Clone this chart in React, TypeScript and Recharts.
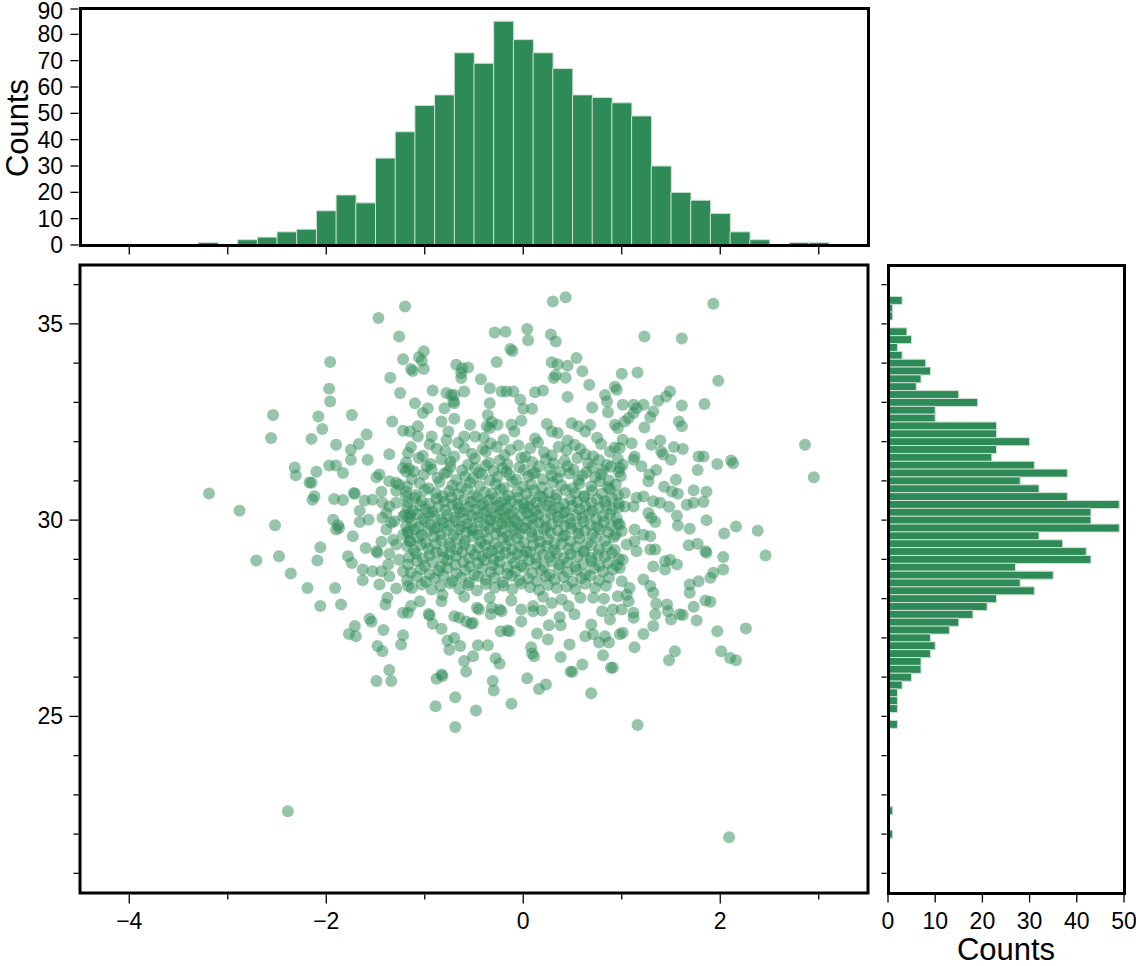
import React from 'react';
import { BarChart, Bar, ScatterChart, Scatter, XAxis, YAxis, ReferenceArea } from 'recharts';

const FONT = '"Liberation Sans", Arial, Helvetica, sans-serif';
const GREEN = '#2e8b57';
const BAR_EDGE = '#cfe2d6';
const MINUS = '\u2212';

// top histogram: bin centres (width 0.2) and counts
const xBinCenters = [
  -4.4, -4.2, -4.0, -3.8, -3.6, -3.4, -3.2, -3.0, -2.8, -2.6,
  -2.4, -2.2, -2.0, -1.8, -1.6, -1.4, -1.2, -1.0, -0.8, -0.6,
  -0.4, -0.2, 0.0, 0.2, 0.4, 0.6, 0.8, 1.0, 1.2, 1.4,
  1.6, 1.8, 2.0, 2.2, 2.4, 2.6, 2.8, 3.0, 3.2, 3.4,
];
const xCounts = [
  0, 0, 0, 0, 0, 0, 1, 0, 2, 3,
  5, 6, 13, 19, 16, 33, 43, 53, 57, 73,
  69, 85, 78, 73, 67, 57, 56, 54, 49, 30,
  20, 17, 12, 5, 2, 0, 1, 1, 0, 0,
];

// right histogram: bin centres from top to bottom and counts
const yBinCenters = [
  36.4, 36.2, 36.0, 35.8, 35.6, 35.4, 35.2, 35.0, 34.8, 34.6,
  34.4, 34.2, 34.0, 33.8, 33.6, 33.4, 33.2, 33.0, 32.8, 32.6,
  32.4, 32.2, 32.0, 31.8, 31.6, 31.4, 31.2, 31.0, 30.8, 30.6,
  30.4, 30.2, 30.0, 29.8, 29.6, 29.4, 29.2, 29.0, 28.8, 28.6,
  28.4, 28.2, 28.0, 27.8, 27.6, 27.4, 27.2, 27.0, 26.8, 26.6,
  26.4, 26.2, 26.0, 25.8, 25.6, 25.4, 25.2, 25.0, 24.8, 24.6,
  24.4, 24.2, 24.0, 23.8, 23.6, 23.4, 23.2, 23.0, 22.8, 22.6,
  22.4, 22.2, 22.0, 21.8, 21.6, 21.4, 21.2, 21.0, 20.8, 20.6,
];
const yCounts = [
  0, 0, 0, 0, 3, 1, 1, 0, 4, 5,
  2, 3, 8, 9, 7, 6, 15, 19, 10, 10,
  23, 23, 30, 23, 22, 31, 38, 28, 32, 38,
  49, 43, 43, 49, 32, 37, 42, 43, 27, 35,
  28, 31, 23, 21, 18, 15, 13, 9, 10, 9,
  7, 7, 5, 3, 2, 2, 2, 0, 2, 0,
  0, 0, 0, 0, 0, 0, 0, 0, 0, 1,
  0, 0, 1, 0, 0, 0, 0, 0, 0, 0,
];

// tick values
const scatterXTicks = [-4, -3, -2, -1, 0, 1, 2, 3];
const scatterYTicks = [21, 22, 23, 24, 25, 26, 27, 28, 29, 30, 31, 32, 33, 34, 35, 36];
const topCountTicks = [0, 10, 20, 30, 40, 50, 60, 70, 80, 90];
const rightCountTicks = [0, 10, 20, 30, 40, 50];

// scatter points, read region by region
const upperLeft = [
  [-1.2, 35.44], [-1.47, 35.15], [-1.26, 34.68], [-1.22, 34.1], [-1.96, 34.03], [-1.35, 33.63],
  [-1.97, 33.35], [-1.96, 33.02], [-1.25, 33.24], [-2.54, 32.68], [-2.08, 32.64], [-1.74, 32.68],
  [-2.04, 32.32], [-1.33, 32.51], [-1.22, 32.28], [-2.56, 32.09], [-2.15, 32.07], [-1.59, 32.18],
];
const upperCentre = [
  [0.3, 35.57], [0.43, 35.68], [-0.29, 34.78], [-0.18, 34.8], [0.04, 34.87], [0.05, 34.58],
  [0.28, 34.73], [0.33, 34.55], [-0.13, 34.36], [-0.11, 34.31], [-0.27, 34.03], [0.54, 34.13],
  [0.29, 34.02], [0.35, 33.97], [0.45, 33.93], [0.6, 33.79], [0.33, 33.7], [0.31, 33.62],
  [0.43, 33.63], [1.0, 33.73], [0.67, 33.45], [0.45, 33.14], [0.93, 33.4], [0.95, 33.32],
  [0.83, 33.19], [0.85, 33.02], [0.86, 32.75], [0.7, 32.87], [1.01, 32.94],
  [-1.01, 34.3], [-1.06, 34.15], [-1.03, 34.06], [-1.01, 33.85], [-1.14, 33.85], [-1.12, 33.8],
  [-0.68, 33.96], [-0.62, 33.87], [-0.63, 33.75], [-0.56, 33.89], [-0.63, 33.62], [-0.43, 33.59],
  [-0.92, 33.3], [-0.78, 33.24], [-0.73, 33.19], [-0.7, 33.19], [-0.71, 33.02], [-0.6, 33.28],
  [-0.34, 33.36], [-0.22, 33.28], [-0.17, 33.28], [-0.1, 33.28], [-0.03, 33.07], [0.12, 33.26],
  [0.2, 33.3], [0.0, 32.84], [0.09, 32.84], [-1.1, 32.98], [-1.02, 32.73], [-0.97, 32.85],
  [-0.8, 32.85], [-0.7, 32.98], [-0.7, 32.58], [-0.34, 32.98], [-0.36, 32.68], [-0.32, 32.5],
  [-0.37, 32.39], [-0.34, 32.35], [-0.26, 32.43], [-0.12, 32.43], [-0.02, 32.53], [-0.09, 32.26],
  [0.24, 32.45], [0.29, 32.26], [0.35, 32.22], [0.49, 32.47], [0.56, 32.39], [0.63, 32.26],
  [0.68, 32.43], [-1.15, 32.26], [-1.07, 32.39], [-1.07, 32.13], [-0.93, 32.13], [-0.83, 32.51],
  [-0.76, 32.26], [-0.54, 32.43], [-0.49, 32.13], [-0.6, 32.13], [0.93, 32.43], [0.96, 32.35],
  [1.03, 32.51], [-0.4, 32.1], [-0.2, 32.05], [0.12, 32.08], [0.45, 32.03], [0.75, 32.1], [-0.78, 32.04],
];
const upperRight = [
  [1.93, 35.51], [1.23, 34.68], [1.61, 34.63], [1.16, 33.76], [1.98, 33.55], [1.49, 33.28],
  [1.45, 33.15], [1.37, 33.04], [1.61, 32.92], [1.84, 32.96], [1.32, 32.77], [1.29, 32.62],
  [1.12, 32.94], [1.15, 32.85], [1.22, 32.94], [1.12, 32.73], [1.07, 32.6], [1.58, 32.51],
  [1.61, 32.39], [1.23, 32.36],
];
const middleLeft = [
  [-3.19, 30.68], [-2.88, 30.24], [-2.52, 29.87], [-1.9, 31.92], [-1.75, 31.79], [-1.67, 31.94],
  [-1.75, 31.54], [-1.58, 31.54], [-1.36, 31.68], [-2.32, 31.34], [-2.31, 31.14], [-2.1, 31.23],
  [-1.97, 31.39], [-1.9, 31.39], [-1.83, 31.2], [-2.17, 30.96], [-2.15, 30.95], [-2.12, 30.61],
  [-2.14, 30.52], [-1.92, 30.54], [-1.83, 30.51], [-1.71, 30.67], [-1.72, 30.69], [-1.61, 30.5],
  [-1.53, 30.52], [-1.44, 30.72], [-1.46, 31.16], [-1.49, 31.09], [-1.36, 30.99], [-1.29, 30.95],
  [-1.26, 30.9], [-1.22, 31.33], [-1.19, 31.24], [-1.29, 30.75], [-1.19, 30.61], [-1.66, 30.24],
  [-1.57, 30.01], [-1.66, 29.95], [-1.43, 30.44], [-1.36, 30.35], [-1.29, 30.44], [-1.39, 30.18],
  [-1.43, 30.06], [-1.34, 29.93], [-1.39, 29.76], [-1.31, 29.97], [-1.22, 30.1], [-1.2, 30.14],
  [-1.15, 30.14], [-1.93, 30.01], [-1.88, 29.87], [-1.87, 29.8], [-1.9, 29.76], [-1.73, 29.59],
  [-2.06, 29.31], [-2.48, 29.08], [-2.71, 28.97], [-2.09, 28.97], [-2.36, 28.64], [-2.19, 28.27],
  [-1.91, 28.27], [-1.78, 29.08], [-1.74, 28.91], [-1.6, 29.29], [-1.49, 29.21], [-1.48, 29.17],
  [-1.44, 29.45], [-1.36, 29.14], [-1.32, 29.5], [-1.29, 29.38], [-1.26, 28.99], [-1.22, 29.63],
  [-1.17, 29.72], [-1.15, 29.46], [-1.63, 28.74], [-1.53, 28.7], [-1.44, 28.7], [-1.37, 28.87],
  [-1.36, 28.57], [-1.22, 28.7], [-1.63, 28.47], [-1.46, 28.36], [-1.29, 28.26], [-1.17, 28.32],
];
const middleRight = [
  [2.86, 31.92], [2.95, 31.09], [2.38, 29.73], [2.46, 29.1], [2.16, 29.84], [2.04, 29.66],
  [1.86, 30.0], [1.69, 29.78], [1.68, 29.36], [1.77, 29.4], [1.85, 29.21], [1.86, 29.17],
  [2.03, 29.06], [2.03, 28.74], [1.93, 28.66], [1.9, 28.53], [1.78, 28.44], [1.69, 28.36],
  [1.78, 31.62], [1.83, 31.62], [1.97, 31.43], [2.11, 31.52], [2.13, 31.45], [1.77, 31.28],
  [1.53, 31.86], [1.62, 31.81], [1.39, 32.03], [1.3, 31.92], [1.4, 31.75], [1.5, 31.54],
  [1.42, 31.67], [1.55, 31.03], [1.73, 30.76], [1.86, 30.72], [1.83, 30.46], [1.73, 30.44],
  [1.66, 30.39], [1.43, 30.85], [1.51, 30.73], [1.57, 30.67], [1.48, 30.34], [1.56, 30.11],
  [1.57, 29.86], [1.35, 31.28], [1.28, 31.16], [1.27, 30.99], [1.2, 31.37], [1.12, 31.54],
  [1.13, 31.62], [1.01, 32.05], [1.1, 31.96], [0.98, 31.84], [1.01, 31.41], [0.98, 31.33],
  [1.03, 30.69], [1.15, 30.57], [1.22, 30.6], [1.32, 30.48], [1.39, 30.44], [1.03, 30.35],
  [1.12, 30.35], [1.27, 30.18], [1.3, 30.06], [1.34, 29.95], [0.98, 29.89], [1.0, 29.72],
  [1.13, 29.76], [1.22, 29.63], [1.29, 29.59], [1.13, 29.46], [1.05, 29.38], [1.15, 29.21],
  [1.29, 29.25], [1.34, 29.25], [1.01, 28.99], [0.98, 28.78], [1.32, 28.82], [1.44, 28.95],
  [1.49, 28.99], [1.56, 28.87], [1.44, 28.74], [1.22, 28.49], [1.29, 28.32], [1.0, 28.44],
  [1.08, 28.27],
];
const coreUpper = [
  [-1.14, 31.86], [-0.95, 31.93], [-0.88, 31.82], [-0.66, 31.97], [-0.6, 31.84], [-0.41, 31.81],
  [-0.33, 31.95], [-0.27, 31.87], [-0.05, 31.9], [0.07, 31.83], [0.15, 31.98], [0.36, 31.87],
  [0.52, 31.92], [0.58, 31.81], [0.79, 31.94], [0.93, 31.85],
  [-1.17, 31.71], [-1.02, 31.64], [-0.79, 31.77], [-0.7, 31.62], [-0.52, 31.69], [-0.38, 31.75],
  [-0.19, 31.66], [-0.13, 31.79], [0.02, 31.61], [0.21, 31.73], [0.29, 31.65], [0.44, 31.78],
  [0.63, 31.68], [0.71, 31.63], [0.88, 31.74],
  [-1.19, 31.47], [-1.06, 31.58], [-0.94, 31.43], [-0.83, 31.55], [-0.74, 31.49], [-0.56, 31.41],
  [-0.49, 31.57], [-0.35, 31.46], [-0.24, 31.52], [-0.16, 31.42], [-0.02, 31.59], [0.09, 31.48],
  [0.23, 31.55], [0.31, 31.44], [0.42, 31.51], [0.55, 31.58], [0.66, 31.45], [0.77, 31.53],
  [0.85, 31.41], [0.96, 31.56],
  [-1.16, 31.31], [-1.11, 31.24], [-0.98, 31.37], [-0.93, 31.29], [-0.77, 31.22], [-0.74, 31.36],
  [-0.62, 31.27], [-0.49, 31.33], [-0.45, 31.21], [-0.38, 31.39], [-0.3, 31.26], [-0.21, 31.32],
  [-0.17, 31.23], [-0.04, 31.35], [0.01, 31.28], [0.12, 31.21], [0.16, 31.37], [0.27, 31.3],
  [0.38, 31.24], [0.45, 31.38], [0.51, 31.29], [0.64, 31.22], [0.7, 31.34], [0.81, 31.27],
  [0.89, 31.36], [0.97, 31.23],
  [-1.13, 31.05], [-1.01, 31.16], [-0.87, 31.08], [-0.8, 31.19], [-0.68, 31.02], [-0.59, 31.12],
  [-0.51, 31.06], [-0.42, 31.17], [-0.34, 31.01], [-0.26, 31.1], [-0.14, 31.15], [-0.07, 31.03],
  [0.05, 31.11], [0.1, 31.18], [0.2, 31.04], [0.29, 31.13], [0.35, 31.07], [0.47, 31.19],
  [0.56, 31.02], [0.6, 31.14], [0.73, 31.09], [0.79, 31.17], [0.87, 31.01], [0.99, 31.12],
];
const coreMiddle = [
  [-1.18, 30.86], [-1.05, 30.94], [-0.96, 30.81], [-0.85, 30.97], [-0.72, 30.88], [-0.63, 30.83],
  [-0.54, 30.95], [-0.44, 30.87], [-0.28, 30.92], [-0.2, 30.82], [-0.11, 30.98], [0.0, 30.85],
  [0.08, 30.91], [0.19, 30.84], [0.3, 30.96], [0.39, 30.89], [0.5, 30.81], [0.57, 30.93],
  [0.69, 30.86], [0.78, 30.99], [0.86, 30.84], [0.94, 30.91],
  [-1.19, 30.72], [-1.09, 30.64], [-1.0, 30.77], [-0.89, 30.69], [-0.82, 30.61], [-0.75, 30.74],
  [-0.66, 30.66], [-0.57, 30.79], [-0.5, 30.63], [-0.39, 30.71], [-0.32, 30.67], [-0.23, 30.78],
  [-0.15, 30.62], [-0.06, 30.73], [0.03, 30.68], [0.11, 30.76], [0.17, 30.61], [0.26, 30.7],
  [0.34, 30.65], [0.43, 30.77], [0.53, 30.69], [0.62, 30.62], [0.7, 30.75], [0.8, 30.67],
  [0.88, 30.79], [0.96, 30.64],
  [-1.17, 30.45], [-1.1, 30.57], [-1.03, 30.49], [-0.95, 30.42], [-0.88, 30.55], [-0.8, 30.47],
  [-0.73, 30.58], [-0.67, 30.41], [-0.6, 30.52], [-0.53, 30.46], [-0.47, 30.59], [-0.41, 30.43],
  [-0.35, 30.51], [-0.29, 30.56], [-0.23, 30.44], [-0.18, 30.53], [-0.12, 30.48], [-0.05, 30.57],
  [0.0, 30.42], [0.07, 30.5], [0.13, 30.45], [0.2, 30.58], [0.27, 30.47], [0.33, 30.54],
  [0.41, 30.41], [0.48, 30.52], [0.55, 30.46], [0.62, 30.59], [0.69, 30.44], [0.75, 30.53],
  [0.83, 30.48], [0.9, 30.56], [0.97, 30.43],
  [-1.18, 30.33], [-1.12, 30.24], [-1.05, 30.37], [-0.99, 30.28], [-0.92, 30.21], [-0.86, 30.35],
  [-0.79, 30.26], [-0.72, 30.39], [-0.66, 30.3], [-0.61, 30.22], [-0.55, 30.34], [-0.49, 30.27],
  [-0.43, 30.38], [-0.37, 30.23], [-0.32, 30.31], [-0.26, 30.36], [-0.21, 30.25], [-0.16, 30.32],
  [-0.11, 30.21], [-0.05, 30.38], [0.01, 30.29], [0.06, 30.34], [0.12, 30.23], [0.18, 30.31],
  [0.24, 30.37], [0.3, 30.26], [0.36, 30.33], [0.43, 30.22], [0.5, 30.36], [0.57, 30.28],
  [0.63, 30.35], [0.7, 30.24], [0.77, 30.31], [0.84, 30.38], [0.9, 30.27], [0.97, 30.33],
  [-1.16, 30.06], [-1.08, 30.15], [-1.02, 30.03], [-0.96, 30.18], [-0.9, 30.09], [-0.83, 30.01],
  [-0.77, 30.13], [-0.7, 30.07], [-0.64, 30.19], [-0.58, 30.04], [-0.52, 30.12], [-0.46, 30.08],
  [-0.4, 30.17], [-0.34, 30.02], [-0.28, 30.1], [-0.24, 30.16], [-0.19, 30.05], [-0.13, 30.14],
  [-0.08, 30.0], [-0.02, 30.11], [0.04, 30.18], [0.09, 30.06], [0.15, 30.13], [0.22, 30.02],
  [0.28, 30.16], [0.35, 30.08], [0.41, 30.19], [0.47, 30.04], [0.54, 30.12], [0.6, 30.07],
  [0.67, 30.17], [0.74, 30.03], [0.81, 30.1], [0.88, 30.15], [0.95, 30.05],
  [-1.19, 29.85], [-1.13, 29.94], [-1.06, 29.82], [-1.0, 29.97], [-0.94, 29.88], [-0.87, 29.81],
  [-0.81, 29.93], [-0.75, 29.86], [-0.69, 29.98], [-0.63, 29.84], [-0.57, 29.91], [-0.51, 29.8],
  [-0.45, 29.95], [-0.39, 29.87], [-0.33, 29.99], [-0.27, 29.83], [-0.22, 29.9], [-0.17, 29.96],
  [-0.12, 29.84], [-0.06, 29.92], [-0.01, 29.81], [0.05, 29.97], [0.1, 29.87], [0.16, 29.93],
  [0.23, 29.82], [0.29, 29.89], [0.36, 29.98], [0.42, 29.85], [0.48, 29.92], [0.55, 29.81],
  [0.61, 29.96], [0.68, 29.88], [0.75, 29.83], [0.82, 29.95], [0.89, 29.86], [0.96, 29.91],
  [-1.17, 29.67], [-1.1, 29.76], [-1.03, 29.62], [-0.97, 29.71], [-0.9, 29.79], [-0.84, 29.64],
  [-0.77, 29.73], [-0.71, 29.61], [-0.65, 29.77], [-0.58, 29.68], [-0.52, 29.74], [-0.46, 29.63],
  [-0.4, 29.7], [-0.34, 29.78], [-0.28, 29.65], [-0.22, 29.72], [-0.16, 29.6], [-0.1, 29.75],
  [-0.04, 29.66], [0.02, 29.79], [0.08, 29.69], [0.15, 29.62], [0.21, 29.76], [0.28, 29.67],
  [0.35, 29.73], [0.42, 29.61], [0.49, 29.78], [0.56, 29.66], [0.63, 29.72], [0.7, 29.64],
  [0.78, 29.77], [0.86, 29.69], [0.94, 29.63],
];
const coreLower = [
  [-1.15, 29.46], [-1.07, 29.55], [-0.99, 29.42], [-0.91, 29.58], [-0.83, 29.49], [-0.75, 29.41],
  [-0.67, 29.53], [-0.59, 29.47], [-0.51, 29.59], [-0.43, 29.44], [-0.36, 29.52], [-0.29, 29.4],
  [-0.21, 29.56], [-0.14, 29.48], [-0.06, 29.54], [0.01, 29.43], [0.09, 29.57], [0.17, 29.45],
  [0.25, 29.51], [0.32, 29.41], [0.4, 29.58], [0.48, 29.46], [0.57, 29.53], [0.65, 29.42],
  [0.74, 29.55], [0.83, 29.48], [0.92, 29.57],
  [-1.18, 29.34], [-1.11, 29.23], [-1.04, 29.37], [-0.96, 29.27], [-0.89, 29.39], [-0.82, 29.21],
  [-0.74, 29.32], [-0.67, 29.26], [-0.6, 29.38], [-0.53, 29.24], [-0.46, 29.31], [-0.39, 29.36],
  [-0.32, 29.22], [-0.25, 29.29], [-0.18, 29.35], [-0.11, 29.25], [-0.04, 29.33], [0.03, 29.2],
  [0.1, 29.37], [0.17, 29.28], [0.24, 29.34], [0.31, 29.23], [0.39, 29.39], [0.46, 29.27],
  [0.54, 29.32], [0.61, 29.21], [0.69, 29.36], [0.77, 29.26], [0.85, 29.33], [0.93, 29.24],
  [-1.16, 29.06], [-1.09, 29.15], [-1.02, 29.02], [-0.95, 29.11], [-0.88, 29.18], [-0.81, 29.04],
  [-0.75, 29.13], [-0.68, 29.08], [-0.62, 29.19], [-0.55, 29.03], [-0.49, 29.12], [-0.42, 29.07],
  [-0.36, 29.16], [-0.3, 29.01], [-0.24, 29.1], [-0.18, 29.17], [-0.12, 29.05], [-0.06, 29.14],
  [0.0, 29.09], [0.07, 29.19], [0.13, 29.02], [0.2, 29.11], [0.27, 29.06], [0.34, 29.15],
  [0.41, 29.03], [0.48, 29.13], [0.55, 29.08], [0.62, 29.18], [0.69, 29.04], [0.76, 29.12],
  [0.83, 29.07], [0.9, 29.16], [0.97, 29.01],
  [-1.17, 28.87], [-1.08, 28.96], [-1.0, 28.83], [-0.92, 28.92], [-0.84, 28.81], [-0.77, 28.97],
  [-0.69, 28.86], [-0.61, 28.93], [-0.54, 28.82], [-0.46, 28.9], [-0.39, 28.98], [-0.31, 28.85],
  [-0.24, 28.94], [-0.16, 28.8], [-0.09, 28.91], [-0.02, 28.84], [0.06, 28.97], [0.13, 28.88],
  [0.21, 28.82], [0.29, 28.95], [0.37, 28.86], [0.45, 28.92], [0.53, 28.81], [0.61, 28.89],
  [0.69, 28.96], [0.77, 28.84], [0.86, 28.91], [0.95, 28.85],
  [-1.14, 28.66], [-1.04, 28.75], [-0.95, 28.62], [-0.86, 28.71], [-0.77, 28.78], [-0.68, 28.64],
  [-0.59, 28.73], [-0.5, 28.61], [-0.42, 28.77], [-0.33, 28.68], [-0.25, 28.74], [-0.16, 28.63],
  [-0.08, 28.7], [0.01, 28.79], [0.09, 28.65], [0.18, 28.72], [0.27, 28.61], [0.36, 28.76],
  [0.45, 28.67], [0.54, 28.73], [0.63, 28.62], [0.72, 28.78], [0.81, 28.69], [0.91, 28.74],
  [-1.18, 28.47], [-1.08, 28.56], [-0.99, 28.43], [-0.9, 28.52], [-0.81, 28.59], [-0.72, 28.45],
  [-0.63, 28.54], [-0.55, 28.41], [-0.46, 28.57], [-0.38, 28.48], [-0.29, 28.53], [-0.21, 28.42],
  [-0.12, 28.58], [-0.04, 28.46], [0.05, 28.51], [0.14, 28.44], [0.23, 28.57], [0.32, 28.49],
  [0.41, 28.55], [0.5, 28.43], [0.59, 28.52], [0.68, 28.58], [0.77, 28.46], [0.87, 28.53],
  [-1.13, 28.27], [-1.03, 28.36], [-0.93, 28.23], [-0.84, 28.32], [-0.74, 28.39], [-0.65, 28.25],
  [-0.56, 28.34], [-0.47, 28.21], [-0.38, 28.37], [-0.29, 28.28], [-0.2, 28.33], [-0.11, 28.24],
  [-0.02, 28.38], [0.07, 28.29], [0.16, 28.22], [0.25, 28.35], [0.34, 28.27], [0.44, 28.31],
  [0.53, 28.24], [0.63, 28.38], [0.73, 28.28], [0.84, 28.33],
];
const lowerLeft = [
  [-2.06, 27.81], [-1.85, 27.85], [-1.38, 28.02], [-1.4, 27.85], [-1.22, 27.64], [-1.17, 27.64],
  [-1.14, 27.81], [-1.56, 27.49], [-1.54, 27.41], [-1.71, 27.3], [-1.77, 27.1], [-1.7, 27.04],
  [-1.42, 27.2], [-1.22, 27.07], [-1.24, 26.83], [-1.48, 26.79], [-1.43, 26.66], [-1.36, 26.18],
  [-1.49, 25.9], [-1.34, 25.9], [-2.39, 22.58],
];
const lowerCentre = [
  [-0.69, 24.73], [-0.89, 25.26], [-0.48, 25.15], [-0.12, 25.32], [-0.69, 25.49], [-0.88, 25.96],
  [-0.83, 26.07], [-0.82, 26.03], [-0.58, 26.14], [-0.6, 26.41], [-0.51, 26.53], [-0.31, 25.9],
  [-0.3, 25.66], [-0.28, 26.48], [-0.24, 26.34], [0.04, 25.97], [0.16, 25.7], [0.23, 25.81],
  [0.5, 26.14], [0.48, 26.14], [0.6, 26.32], [0.38, 26.51], [0.69, 25.59], [0.81, 26.56],
  [0.89, 26.24], [0.91, 26.24], [0.08, 26.76], [0.09, 26.6], [0.11, 26.53], [0.47, 26.83],
  [0.25, 26.96], [0.14, 27.11], [0.26, 27.32], [0.38, 27.32], [0.37, 27.53], [-0.02, 27.42],
  [-0.23, 27.17], [-0.16, 27.19], [-0.14, 27.17], [-0.36, 26.81], [-0.46, 26.81], [-0.75, 26.7],
  [-0.77, 26.93], [-0.7, 27.0], [-0.64, 26.79], [-0.83, 27.23], [-0.92, 27.36], [-0.96, 27.61],
  [-0.95, 27.57], [-0.7, 27.55], [-0.65, 27.51], [-0.58, 27.42], [-0.53, 27.36], [-0.51, 27.38],
  [-0.45, 27.72], [-0.47, 27.77], [-0.33, 27.6], [-0.32, 27.77], [-0.24, 27.72], [-0.22, 27.68],
  [-0.34, 28.02], [-0.02, 27.72], [0.1, 27.81], [0.1, 27.68], [0.19, 27.7], [0.29, 27.89],
  [0.39, 27.98], [0.46, 27.81], [0.52, 27.6], [0.58, 28.02], [0.63, 27.04], [0.71, 27.09],
  [0.69, 27.34], [0.77, 26.88], [0.83, 27.04], [0.87, 26.88], [0.71, 28.02], [0.8, 27.68],
  [0.88, 27.47], [0.91, 27.72], [0.98, 27.09], [1.01, 27.13], [0.96, 28.06], [-1.05, 27.93],
  [-0.83, 27.93], [-0.82, 28.1], [-0.6, 28.05], [-0.12, 27.95], [0.2, 28.05], [0.82, 28.0],
];
const lowerRight = [
  [1.16, 24.78], [2.26, 27.24], [1.97, 27.17], [2.01, 26.66], [2.1, 26.49], [2.16, 26.43],
  [1.54, 26.66], [1.48, 26.43], [1.13, 26.76], [1.22, 27.1], [1.32, 27.3], [1.34, 27.6],
  [1.5, 27.47], [1.59, 27.6], [1.62, 27.58], [1.76, 27.44], [1.46, 27.85], [1.47, 27.68],
  [1.35, 27.87], [1.73, 27.79], [1.85, 27.95], [1.9, 27.92], [1.69, 28.15], [1.05, 28.1],
  [1.07, 27.93], [1.12, 27.64], [1.12, 27.51], [1.0, 27.72], [1.32, 28.15], [2.09, 21.92],
];

const scatterData = [
  ...upperLeft, ...upperCentre, ...upperRight,
  ...middleLeft, ...middleRight,
  ...coreUpper, ...coreMiddle, ...coreLower,
  ...lowerLeft, ...lowerCentre, ...lowerRight,
].map(([x, y]) => ({ x, y }));

const topData = xBinCenters.map((bin, i) => ({ bin, count: xCounts[i] }));
const rightData = yBinCenters.map((bin, i) => ({ bin, count: yCounts[i] }));

function fmt(v: number) {
  return v < 0 ? MINUS + Math.abs(v) : String(v);
}

const labelStyle = { fontSize: 23, fontFamily: FONT, fill: '#000' };

function bottomTick(props: any, opts: { labels: 'even' | 'all' | 'none'; major: number; minor: number }) {
  const { x, y, payload } = props;
  const v = Number(payload.value);
  const show = opts.labels === 'all' || (opts.labels === 'even' && v % 2 === 0);
  const len = show || opts.labels === 'none' ? opts.major : opts.minor;
  return (
    <g>
      <line x1={x} x2={x} y1={y + 1.5} y2={y + 1.5 + len} stroke="#000" strokeWidth={1.3} />
      {show && (
        <text x={x} y={y + 36} textAnchor="middle" {...labelStyle}>
          {fmt(v)}
        </text>
      )}
    </g>
  );
}

function leftTick(props: any, opts: { labelled: (v: number) => boolean; major: number; minor: number; label: boolean }) {
  const { x, y, payload } = props;
  const v = Number(payload.value);
  const major = opts.labelled(v);
  const len = major ? opts.major : opts.minor;
  // keep the topmost label inside the page
  const baseline = Math.max(y + 8, 19);
  return (
    <g>
      <line x1={x - 1.5} x2={x - 1.5 - len} y1={y} y2={y} stroke="#000" strokeWidth={1.3} />
      {opts.label && major && (
        <text x={x - 17} y={baseline} textAnchor="end" {...labelStyle}>
          {fmt(v)}
        </text>
      )}
    </g>
  );
}

// plot frame drawn as a plain box around a plot area
function Frame({ left, top, width, height }: { left: number; top: number; width: number; height: number }) {
  return (
    <div
      style={{
        position: 'absolute',
        left: left - 1.5,
        top: top - 1.5,
        width: width + 3,
        height: height + 3,
        border: '3px solid #000',
        boxSizing: 'border-box',
        pointerEvents: 'none',
      }}
    />
  );
}

function TopHistogram() {
  return (
    <div style={{ position: 'absolute', left: 0, top: 0 }}>
      <BarChart width={880} height={260} data={topData} margin={{ top: 8, right: 12, bottom: 0, left: 0 }} barCategoryGap={0} barGap={0}>
        <XAxis
          dataKey="bin"
          type="category"
          ticks={scatterXTicks}
          interval={0}
          height={15}
          axisLine={false}
          tickLine={false}
          tickSize={0}
          tickMargin={0}
          tick={(p: any) => bottomTick(p, { labels: 'none', major: 8, minor: 8 })}
        />
        <YAxis
          type="number"
          domain={[0, 90]}
          ticks={topCountTicks}
          width={80}
          allowDataOverflow
          axisLine={false}
          tickLine={false}
          tickSize={0}
          tickMargin={0}
          tick={(p: any) => leftTick(p, { labelled: () => true, major: 8, minor: 8, label: true })}
        />
        <Bar dataKey="count" fill={GREEN} stroke={BAR_EDGE} strokeWidth={1} isAnimationActive={false} />
      </BarChart>
    </div>
  );
}

function MainScatter() {
  return (
    <div style={{ position: 'absolute', left: 0, top: 255 }}>
      <ScatterChart width={880} height={711} margin={{ top: 10, right: 12, bottom: 0, left: 0 }}>
        <XAxis
          type="number"
          dataKey="x"
          domain={[-4.5, 3.5]}
          ticks={scatterXTicks}
          allowDataOverflow
          height={73}
          axisLine={false}
          tickLine={false}
          tickSize={0}
          tickMargin={0}
          tick={(p: any) => bottomTick(p, { labels: 'even', major: 9, minor: 5 })}
        />
        <YAxis
          type="number"
          dataKey="y"
          domain={[20.5, 36.5]}
          ticks={scatterYTicks}
          allowDataOverflow
          width={80}
          axisLine={false}
          tickLine={false}
          tickSize={0}
          tickMargin={0}
          tick={(p: any) => leftTick(p, { labelled: (v) => v % 5 === 0, major: 9, minor: 5, label: true })}
        />
        <Scatter
          data={scatterData}
          isAnimationActive={false}
          shape={(p: any) => <circle cx={p.cx} cy={p.cy} r={6} fill={GREEN} fillOpacity={0.5} />}
        />
        <ReferenceArea x1={-4.5} x2={3.5} y1={20.5} y2={36.5} fill="none" stroke="#000" strokeWidth={3} ifOverflow="visible" />
      </ScatterChart>
    </div>
  );
}

function RightHistogram() {
  return (
    <div style={{ position: 'absolute', left: 880, top: 255 }}>
      <BarChart
        layout="vertical"
        width={256}
        height={711}
        data={rightData}
        margin={{ top: 10, right: 12, bottom: 0, left: 0 }}
        barCategoryGap={0}
        barGap={0}
      >
        <XAxis
          type="number"
          domain={[0, 50]}
          ticks={rightCountTicks}
          allowDataOverflow
          height={73}
          axisLine={false}
          tickLine={false}
          tickSize={0}
          tickMargin={0}
          tick={(p: any) => bottomTick(p, { labels: 'all', major: 8, minor: 8 })}
        />
        <YAxis
          type="category"
          dataKey="bin"
          ticks={scatterYTicks}
          interval={0}
          width={8}
          axisLine={false}
          tickLine={false}
          tickSize={0}
          tickMargin={0}
          tick={(p: any) => leftTick(p, { labelled: () => false, major: 5, minor: 5, label: false })}
        />
        <Bar dataKey="count" fill={GREEN} stroke={BAR_EDGE} strokeWidth={1} isAnimationActive={false} />
      </BarChart>
    </div>
  );
}

export default function App() {
  return (
    <div style={{ position: 'absolute', left: 0, top: 0, width: 1136, height: 966, background: '#fff', fontFamily: FONT, overflow: 'hidden' }}>
      <TopHistogram />
      <MainScatter />
      <RightHistogram />
      <Frame left={80} top={8} width={788} height={237} />
      <Frame left={888} top={265} width={236} height={628} />
      <svg width={1136} height={966} style={{ position: 'absolute', left: 0, top: 0, pointerEvents: 'none' }}>
        <text x={28} y={128} transform="rotate(-90 28 128)" textAnchor="middle" fontSize={31} fontFamily={FONT} fill="#000">
          Counts
        </text>
        <text x={1006} y={960} textAnchor="middle" fontSize={31} fontFamily={FONT} fill="#000">
          Counts
        </text>
      </svg>
    </div>
  );
}
